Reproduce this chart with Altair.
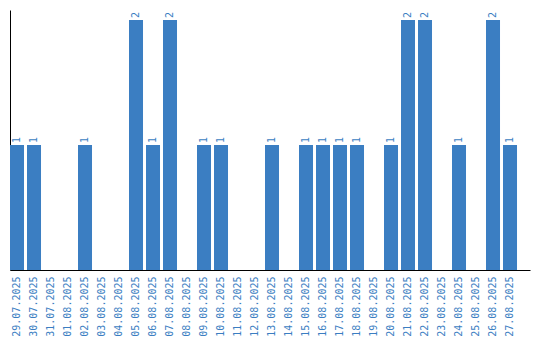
import altair as alt
import pandas as pd

dates = ["29.07.2025", "30.07.2025", "31.07.2025", "01.08.2025", "02.08.2025",
         "03.08.2025", "04.08.2025", "05.08.2025", "06.08.2025", "07.08.2025",
         "08.08.2025", "09.08.2025", "10.08.2025", "11.08.2025", "12.08.2025",
         "13.08.2025", "14.08.2025", "15.08.2025", "16.08.2025", "17.08.2025",
         "18.08.2025", "19.08.2025", "20.08.2025", "21.08.2025", "22.08.2025",
         "23.08.2025", "24.08.2025", "25.08.2025", "26.08.2025", "27.08.2025"]
counts = [1, 1, 0, 0, 1, 0, 0, 2, 1, 2, 0, 1, 1, 0, 0, 1, 0, 1, 1, 1, 1, 0, 1, 2, 2, 0, 1, 0, 2, 1]

df = pd.DataFrame({"date": dates, "count": counts})
BLUE = "#3b7ec2"
FONT = "DejaVu Sans Mono"

x = alt.X("date:N", sort=dates,
          scale=alt.Scale(paddingInner=0.176, paddingOuter=0.382, align=0),
          axis=alt.Axis(title=None, labelAngle=-90, labelColor=BLUE, labelFont=FONT,
                        labelFontSize=10, ticks=False, domainColor="black",
                        labelPadding=6, labelAlign="right", labelBaseline="middle"))
y = alt.Y("count:Q", scale=alt.Scale(domain=[0, 2.08], nice=False, zero=True),
          axis=alt.Axis(title=None, labels=False, ticks=False, grid=False, domainColor="black"))

base = alt.Chart(df)
bars = base.mark_bar(color=BLUE).encode(x=x, y=y)
text = base.transform_filter("datum.count > 0").mark_text(
    angle=270, align="left", baseline="middle", dx=2, color=BLUE, font=FONT, fontSize=10
).encode(x=x, y=y, text="count:Q")

chart = (bars + text).properties(
    width=520, height=260,
    autosize=alt.AutoSizeParams(type="none"),
    padding={"left": 10, "top": 10, "right": 10, "bottom": 70},
).configure_view(stroke=None)

chart.save("out.html", embed_options={"renderer": "svg", "actions": False})
